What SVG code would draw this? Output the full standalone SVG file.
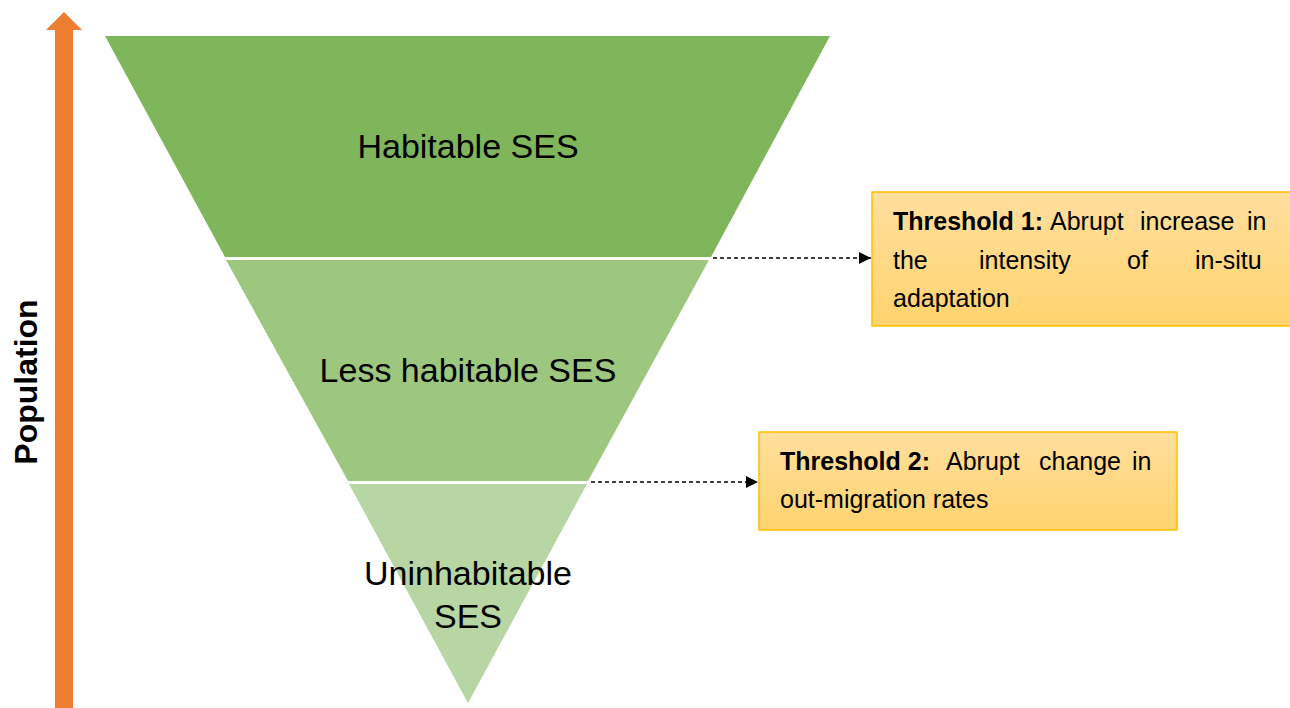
<svg xmlns="http://www.w3.org/2000/svg" width="1290" height="708" viewBox="0 0 1290 708">
<style>
.lbl{font-family:"Liberation Sans",Arial,sans-serif;font-size:34px;fill:#000;text-anchor:middle}
.bx{font-family:"Liberation Sans",Arial,sans-serif;font-size:25px;fill:#000}
.b{font-weight:bold}
.box{fill:url(#gold);stroke:#FFC000;stroke-width:1.5}
.con{stroke:#000;stroke-width:1.3;stroke-dasharray:4 3;fill:none;marker-end:url(#ah)}
</style>
<defs>
<linearGradient id="gold" x1="0" y1="0" x2="0" y2="1">
<stop offset="0" stop-color="#FFDF9E"/>
<stop offset="1" stop-color="#FFD36E"/>
</linearGradient>
<marker id="ah" viewBox="0 0 10 10" refX="10" refY="5" markerWidth="14" markerHeight="12" markerUnits="userSpaceOnUse" orient="auto">
<path d="M0,0 L10,5 L0,10 Z" fill="#000"/>
</marker>
</defs>
<rect width="1290" height="708" fill="#fff"/>
<g id="axis">
<path d="M55,708 L55,30 L46,30 L64,12 L82,30 L73,30 L73,708 Z" fill="#ED7D31"/>
<text class="b" transform="translate(37,382) rotate(-90)" text-anchor="middle" font-family="Liberation Sans, Arial, sans-serif" font-size="32">Population</text>
</g>
<g id="habitable">
<polygon points="105,36 830,36 711,257 225,257" fill="#7FB65B"/>
<text class="lbl" x="468" y="158">Habitable SES</text>
</g>
<g id="less-habitable">
<polygon points="226,260 709,260 588,481 348,481" fill="#9DC77F"/>
<text class="lbl" x="468" y="382">Less habitable SES</text>
</g>
<g id="uninhabitable">
<polygon points="349,484 587,484 468,703" fill="#B7D6A3"/>
<text class="lbl" x="468" y="585">Uninhabitable</text>
<text class="lbl" x="468" y="628">SES</text>
</g>
<g id="connectors">
<line class="con" x1="713" y1="258" x2="871" y2="258"/>
<line class="con" x1="591" y1="482" x2="758" y2="482"/>
</g>
<g id="threshold1">
<rect class="box" x="872" y="192" width="420" height="134"/>
<text class="bx" y="230"><tspan class="b" x="893">Threshold 1:</tspan><tspan x="1050">Abrupt</tspan><tspan x="1140">increase</tspan><tspan x="1247">in</tspan></text>
<text class="bx" y="269"><tspan x="893">the</tspan><tspan x="979">intensity</tspan><tspan x="1127">of</tspan><tspan x="1195">in-situ</tspan></text>
<text class="bx" x="893" y="307">adaptation</text>
</g>
<g id="threshold2">
<rect class="box" x="759" y="432" width="418" height="98"/>
<text class="bx" y="470"><tspan class="b" x="780">Threshold 2:</tspan><tspan x="946">Abrupt</tspan><tspan x="1039">change</tspan><tspan x="1132">in</tspan></text>
<text class="bx" x="780" y="508">out-migration rates</text>
</g>
</svg>
